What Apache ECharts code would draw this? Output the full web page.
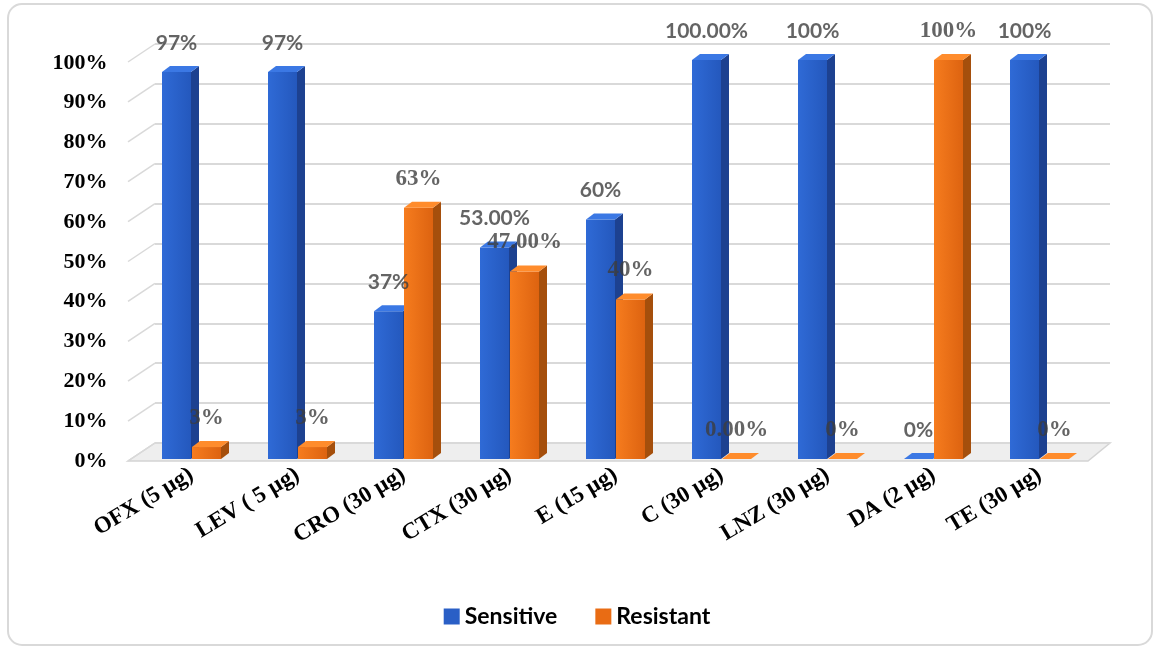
<!DOCTYPE html>
<html>
<head>
<meta charset="utf-8">
<script src="https://cdn.jsdelivr.net/npm/echarts@6/dist/echarts.min.js"></script>
<style>
  html, body { margin: 0; padding: 0; background: #fff; }
  #chart { width: 1154px; height: 647px; }
</style>
</head>
<body>
<div id="chart"></div>
<script>
const categories = ['OFX (5 µg)', 'LEV ( 5 µg)', 'CRO (30 µg)', 'CTX (30 µg)', 'E (15 µg)', 'C (30 µg)', 'LNZ (30 µg)', 'DA (2 µg)', 'TE (30 µg)']
const sensitive = [97, 97, 37, 53, 60, 100, 100, 0, 100]
const resistant = [3, 3, 63, 47, 40, 0, 0, 100, 0]
const sensitiveLabels = ['97%', '97%', '37%', '53.00%', '60%', '100.00%', '100%', '0%', '100%']
const resistantLabels = ['3%', '3%', '63%', '47.00%', '40%', '0.00%', '0%', '100%', '0%']
const ticks = [0, 10, 20, 30, 40, 50, 60, 70, 80, 90, 100]

const chart = echarts.init(document.getElementById('chart'))

const SERIF = 'Liberation Serif, DejaVu Serif, serif'

// colours for the faces of each 3d column
const faces = {
  Sensitive: { front: ['#2f6ad6', '#2458bd'], side: '#1d4190', top: '#3b78e4' },
  Resistant: { front: ['#f67c1e', '#dd6310'], side: '#a54f0c', top: '#ff8c2c' },
}
const DX = 8, DY = 6, BAR_W = 29

function barRenderer(name, offset) {
  const f = faces[name]
  return function (params, api) {
    const idx = api.value(0)
    const top = api.coord([idx, api.value(1)])
    const base = api.coord([idx, 0])
    const x0 = top[0] + offset
    const x1 = x0 + BAR_W
    const yT = top[1], yB = base[1]
    return {
      type: 'group',
      children: [
        {
          type: 'rect',
          shape: { x: x0, y: yT, width: BAR_W, height: yB - yT },
          style: {
            fill: new echarts.graphic.LinearGradient(0, 0, 1, 0, [
              { offset: 0, color: f.front[0] }, { offset: 1, color: f.front[1] },
            ]),
          },
        },
        {
          type: 'polygon',
          shape: { points: [[x1, yT], [x1 + DX, yT - DY], [x1 + DX, yB - DY], [x1, yB]] },
          style: { fill: f.side },
        },
        {
          type: 'polygon',
          shape: { points: [[x0, yT], [x0 + DX, yT - DY], [x1 + DX, yT - DY], [x1, yT]] },
          style: { fill: f.top },
        },
      ],
    }
  }
}

// invisible points that only carry the value labels
function labelSeries(values, labels, dx, family, size) {
  return {
    type: 'scatter',
    symbolSize: 0,
    silent: true,
    z: 6,
    itemStyle: { color: 'transparent' },
    data: values.map((v, i) => [i, v]),
    label: {
      show: true,
      position: 'inside',
      offset: [dx, -29],
      formatter: (p) => labels[p.dataIndex],
      fontFamily: family,
      fontSize: size,
      fontWeight: 'bold',
      color: '#3d3d3d',
      textBorderWidth: 0,
      textBorderColor: 'transparent',
    },
  }
}

chart.setOption({
  backgroundColor: '#fff',
  animation: false,
  graphic: [
    {
      type: 'rect',
      shape: { x: 8, y: 4, width: 1144, height: 641, r: 14 },
      style: { fill: 'none', stroke: '#d9d9d9', lineWidth: 2 },
      z: -10,
    },
    {
      type: 'polygon',
      shape: { points: [[128, 461], [1088, 461], [1110, 443], [155, 443]] },
      style: { fill: '#eeeeee', stroke: '#d4d4d4', lineWidth: 1.5 },
      z: -5,
    },
  ],
  legend: {
    top: 600,
    left: 'center',
    itemWidth: 16,
    itemHeight: 16,
    itemGap: 38,
    icon: 'rect',
    textStyle: { fontFamily: 'Lato', fontWeight: 'bold', fontSize: 23, color: '#000' },
    data: [
      { name: 'Sensitive', itemStyle: { color: '#2a5fc6' } },
      { name: 'Resistant', itemStyle: { color: '#e96c14' } },
    ],
  },
  grid: [
    { left: 138.5, right: 61.5, top: 60, bottom: 188 },
    { left: 155, right: 44, top: 44, bottom: 204 },
    { left: 138.5, right: 61.5, top: 63, bottom: 186 },
  ],
  xAxis: [
    {
      type: 'category',
      gridIndex: 0,
      data: categories,
      axisLine: { show: false },
      axisTick: { show: false },
      axisLabel: {
        rotate: 31,
        margin: 14,
        interval: 0,
        fontFamily: SERIF,
        fontWeight: 'bold',
        fontSize: 23,
        color: '#000',
      },
    },
    { type: 'value', gridIndex: 1, min: 0, max: 1, show: false },
    { type: 'value', gridIndex: 2, min: 0, max: 1, show: false },
  ],
  yAxis: [
    { type: 'value', gridIndex: 0, min: 0, max: 100, show: false },
    {
      type: 'value',
      gridIndex: 1,
      min: 0,
      max: 100,
      interval: 10,
      axisLine: { show: false },
      axisTick: { show: false },
      axisLabel: { show: false },
      splitLine: { lineStyle: { color: '#d9d9d9', width: 2 } },
    },
    {
      // the tick labels sit on the front edge of the side wall
      type: 'value',
      gridIndex: 2,
      min: 0,
      max: 100,
      interval: 10,
      axisLine: { show: false },
      axisTick: { show: false },
      splitLine: { show: false },
      axisLabel: {
        formatter: '{value}%',
        margin: 31,
        fontFamily: SERIF,
        fontWeight: 'bold',
        fontSize: 22,
        color: '#000',
      },
    },
  ],
  series: [
    {
      // side wall diagonals
      type: 'custom',
      xAxisIndex: 1,
      yAxisIndex: 1,
      silent: true,
      z: 1,
      data: ticks.map((t) => [0, t]),
      renderItem: (params, api) => {
        const p = api.coord([0, api.value(1)])
        return {
          type: 'line',
          shape: { x1: p[0] - 27, y1: p[1] + 18, x2: p[0], y2: p[1] },
          style: { stroke: '#d9d9d9', lineWidth: 1.5 },
        }
      },
    },
    {
      name: 'Sensitive',
      type: 'custom',
      z: 3,
      itemStyle: { color: '#2a5fc6' },
      data: sensitive.map((v, i) => [i, v]),
      renderItem: barRenderer('Sensitive', -BAR_W - 0.5),
    },
    {
      name: 'Resistant',
      type: 'custom',
      z: 4,
      itemStyle: { color: '#e96c14' },
      data: resistant.map((v, i) => [i, v]),
      renderItem: barRenderer('Resistant', 0.5),
    },
    labelSeries(sensitive, sensitiveLabels, -15, 'Lato', 21),
    labelSeries(resistant, resistantLabels, 15, SERIF, 23),
  ],
})
</script>
</body>
</html>
